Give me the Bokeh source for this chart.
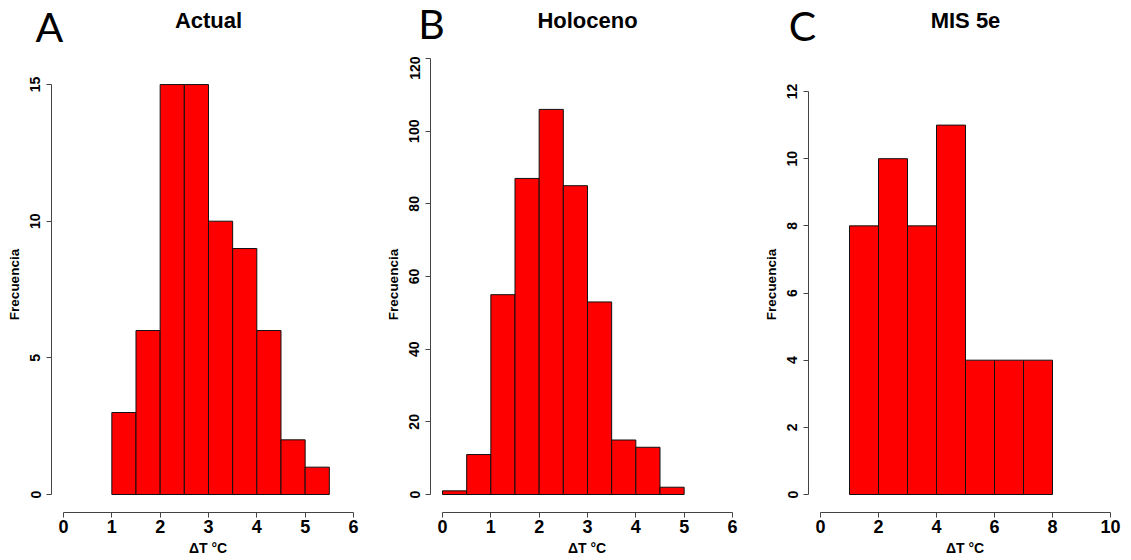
from bokeh.plotting import figure
from bokeh.layouts import row, column
from bokeh.models import FixedTicker, Label, Range1d
from bokeh.embed import file_html
from bokeh.resources import INLINE

# ---- data ----
a_edges = [1.0, 1.5, 2.0, 2.5, 3.0, 3.5, 4.0, 4.5, 5.0, 5.5]
a_counts = [3, 6, 15, 15, 10, 9, 6, 2, 1]
b_edges = [0.0, 0.5, 1.0, 1.5, 2.0, 2.5, 3.0, 3.5, 4.0, 4.5, 5.0]
b_counts = [1, 11, 55, 87, 106, 85, 53, 15, 13, 2]
c_edges = [1, 2, 3, 4, 5, 6, 7, 8]
c_counts = [8, 10, 8, 11, 4, 4, 4]

a_xticks = [0, 1, 2, 3, 4, 5, 6]
a_yticks = [0, 5, 10, 15]
b_xticks = [0, 1, 2, 3, 4, 5, 6]
b_yticks = [0, 20, 40, 60, 80, 100, 120]
c_xticks = [0, 2, 4, 6, 8, 10]
c_yticks = [0, 2, 4, 6, 8, 10, 12]

titles = ["Actual", "Holoceno", "MIS 5e"]
letters = ["A", "B", "C"]
xlabel = "ΔT °C"
ylabel = "Frecuencia"

FONT = "Liberation Sans"
AXC = "#444444"

TOTAL_W = 1131
STRIP_H = 56       # heading strip with panel letters and titles
FRAME_W = 313
ZERO_PX = 494      # canvas pixel row of y = 0
AXIS_PX = 512      # canvas pixel row of the x-axis line
FRAME_H = AXIS_PX - STRIP_H


def panel(edges, counts, xticks, yticks, x0px, kx, ky, border_l, border_r):
    x_start = -(x0px - border_l) / kx
    x_end = x_start + FRAME_W / kx
    y_start = -(AXIS_PX - ZERO_PX) / ky
    y_end = (ZERO_PX - STRIP_H) / ky

    p = figure(output_backend="svg", toolbar_location=None,
               frame_width=FRAME_W, frame_height=FRAME_H,
               min_border_left=border_l, min_border_right=border_r,
               min_border_top=0, min_border_bottom=46,
               x_range=Range1d(x_start, x_end), y_range=Range1d(y_start, y_end))
    p.outline_line_color = None
    p.grid.visible = False
    p.background_fill_color = "white"
    p.border_fill_color = "white"

    p.quad(left=edges[:-1], right=edges[1:], bottom=0, top=counts,
           fill_color="#FF0000", line_color="#111111", line_width=1)

    xa = p.xaxis[0]
    xa.ticker = FixedTicker(ticks=xticks)
    xa.bounds = (xticks[0], xticks[-1])
    xa.axis_label = xlabel
    ya = p.yaxis[0]
    ya.ticker = FixedTicker(ticks=yticks)
    ya.bounds = (yticks[0], yticks[-1])
    ya.axis_label = ylabel
    ya.major_label_orientation = "vertical"

    for ax in (xa, ya):
        ax.axis_line_color = AXC
        ax.major_tick_line_color = AXC
        ax.minor_tick_line_color = None
        ax.major_tick_in = 0
        ax.major_tick_out = 5
        ax.major_label_text_font = FONT
        ax.major_label_text_font_style = "bold"
        ax.major_label_text_color = "black"
        ax.axis_label_text_font = FONT
        ax.axis_label_text_font_style = "bold"
        ax.axis_label_text_color = "black"
    xa.major_label_text_font_size = "18px"
    xa.major_label_standoff = 2
    xa.axis_label_text_font_size = "14px"
    xa.axis_label_standoff = 4
    ya.major_label_text_font_size = "14px"
    ya.major_label_standoff = 6
    ya.axis_label_text_font_size = "13.5px"
    ya.axis_label_standoff = 6
    return p


pa = panel(a_edges, a_counts, a_xticks, a_yticks, 63, 48.33, 27.33, 51, 16)
pb = panel(b_edges, b_counts, b_xticks, b_yticks, 62, 48.33, 3.633, 50, 17)
pc = panel(c_edges, c_counts, c_xticks, c_yticks, 60, 29.0, 33.58, 48, 10)

# heading strip: panel letters and titles (pixel coordinates)
strip = figure(output_backend="svg", toolbar_location=None,
               width=TOTAL_W, height=STRIP_H, min_border=0,
               x_range=Range1d(0, TOTAL_W), y_range=Range1d(STRIP_H, 0))
strip.axis.visible = False
strip.grid.visible = False
strip.outline_line_color = None
strip.background_fill_color = "white"
strip.border_fill_color = "white"

title_pos = [(208, 20), (587, 20), (965, 20)]
letter_pos = [(49, 26), (431, 23), (802, 25)]
for t, (tx, ty) in zip(titles, title_pos):
    strip.add_layout(Label(x=tx, y=ty, text=t, text_font=FONT,
                           text_font_style="bold", text_font_size="22px",
                           text_color="black", text_align="center",
                           text_baseline="middle"))
for l, (lx, ly) in zip(letters, letter_pos):
    strip.add_layout(Label(x=lx, y=ly, text=l, text_font="Lato",
                           text_font_size="41px", text_color="black",
                           text_align="center", text_baseline="middle"))

layout = column(strip, row(pa, pb, pc, spacing=0), spacing=0)
open("out.html", "w").write(file_html(layout, INLINE))
